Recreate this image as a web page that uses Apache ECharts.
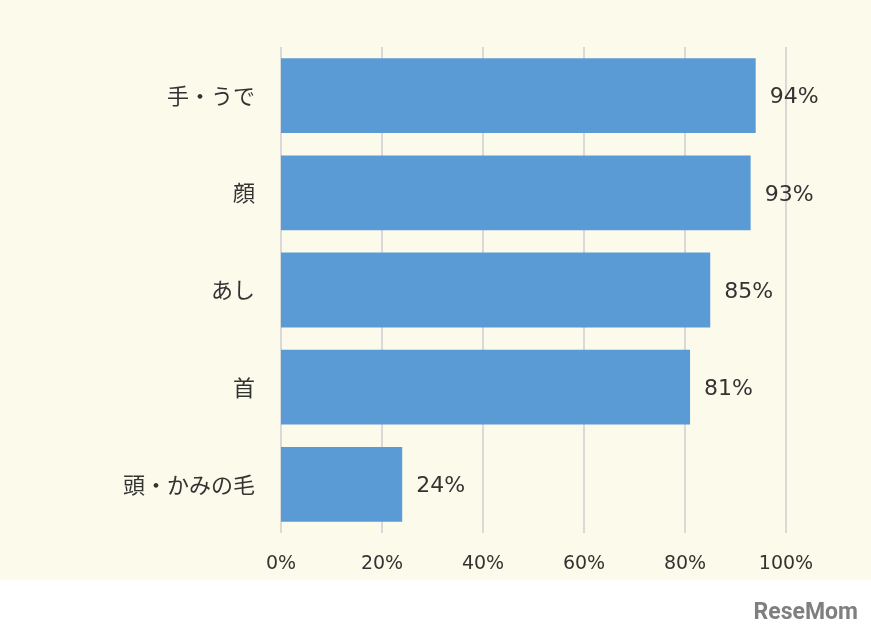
<!DOCTYPE html>
<html>
<head>
<meta charset="utf-8">
<script src="https://cdn.jsdelivr.net/npm/echarts@6/dist/echarts.min.js"></script>
<style>
html,body{margin:0;padding:0;background:#ffffff;}
#c{width:871px;height:638px;}
</style>
</head>
<body>
<div id="c"></div>
<script>
const categories = ['手・うで', '顔', 'あし', '首', '頭・かみの毛'];
const values = [94, 93, 85, 81, 24];
const xTicks = [0, 20, 40, 60, 80, 100];

const chart = echarts.init(document.getElementById('c'), null, {renderer: 'canvas'});
const jp = '"Noto Sans CJK JP", "Noto Sans", sans-serif';
const num = '"DejaVu Sans", sans-serif';
chart.setOption({
  backgroundColor: '#ffffff',
  animation: false,
  graphic: [
    {type: 'rect', z: -10, shape: {x: 0, y: 0, width: 871, height: 580}, style: {fill: '#fcfaea'}},
    {type: 'text', right: 13, top: 602, style: {text: 'ReseMom', fill: '#7f7f7f', font: 'bold 23px "Liberation Sans Narrow", "Roboto", sans-serif'}}
  ],
  grid: {left: 281, right: 85, top: 47, bottom: 105},
  xAxis: {
    type: 'value', min: xTicks[0], max: xTicks[xTicks.length - 1], interval: 20,
    axisLine: {show: false}, axisTick: {show: false},
    axisLabel: {formatter: '{value}%', color: '#333333', fontSize: 19, fontFamily: num, margin: 22},
    splitLine: {show: true, lineStyle: {color: '#d9d9d9', width: 2}}
  },
  yAxis: {
    type: 'category', data: categories, inverse: true,
    axisLine: {show: false}, axisTick: {show: false},
    axisLabel: {color: '#333333', fontSize: 22, fontFamily: jp, margin: 26}
  },
  series: [{
    type: 'bar', data: values, barCategoryGap: '23%',
    itemStyle: {color: '#5b9bd5'},
    label: {show: true, position: 'right', distance: 14, offset: [0, 2], formatter: '{c}%', color: '#333333', fontSize: 22, fontFamily: num}
  }]
});
</script>
</body>
</html>
